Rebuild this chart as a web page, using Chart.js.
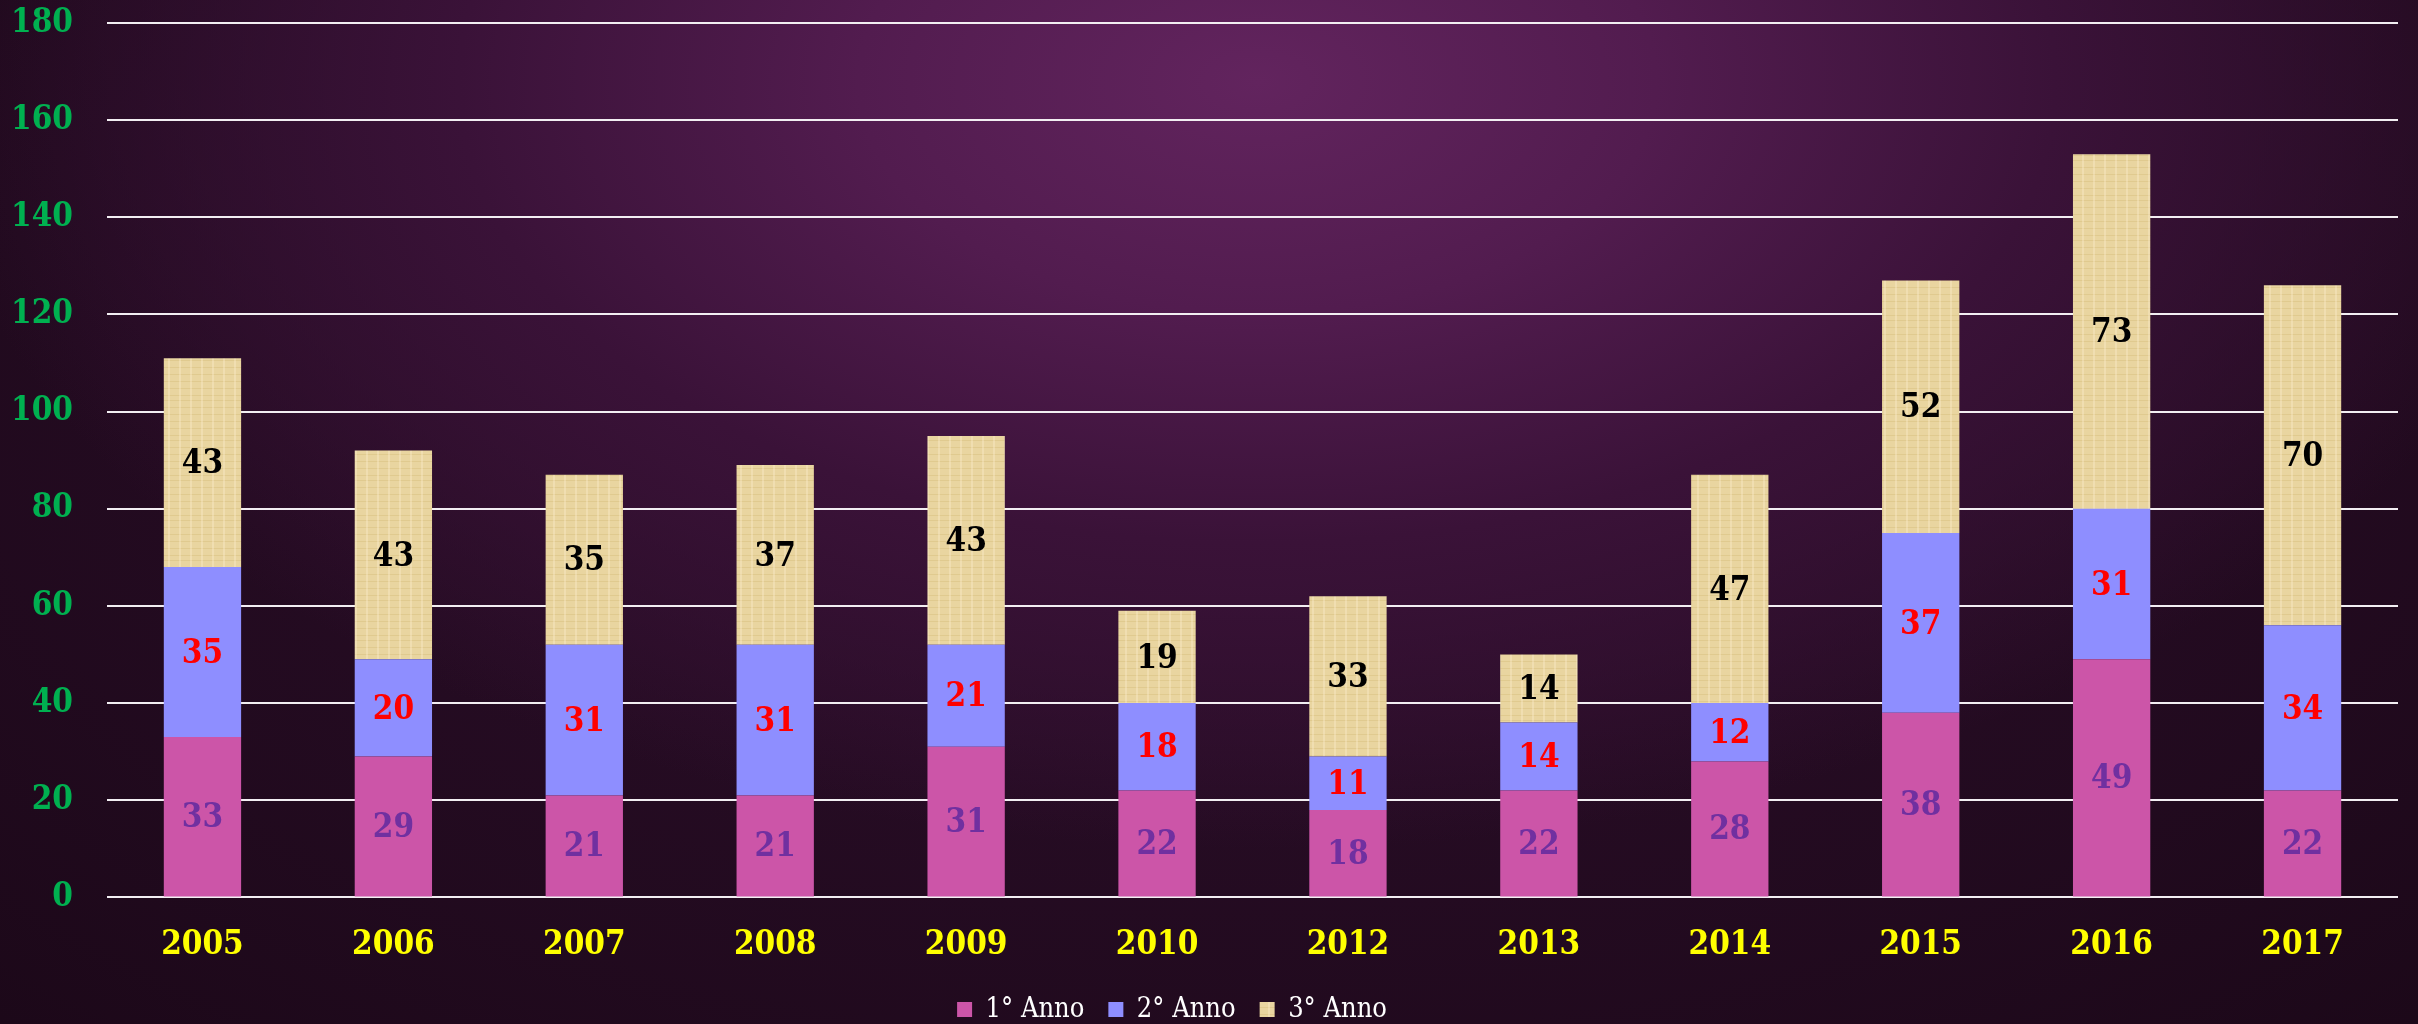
<!DOCTYPE html>
<html>
<head>
<meta charset="utf-8">
<script src="https://cdn.jsdelivr.net/npm/chart.js@4.4.1/dist/chart.umd.min.js"></script>
<style>
  html, body { margin: 0; padding: 0; }
  body {
    width: 2418px; height: 1024px; overflow: hidden;
    background:
      radial-gradient(ellipse 55% 75% at 52% 8%, #62245e 0%, #521c4f 30%, #3a1238 60%, rgba(30,10,28,0) 100%),
      radial-gradient(ellipse at 50% 40%, #2e0f2c 0%, #1c0819 100%);
  }
  #wrap { position: relative; width: 2418px; height: 1024px; }
</style>
</head>
<body>
<div id="wrap"><canvas id="annoChart"></canvas></div>
<script>
const years = ["2005", "2006", "2007", "2008", "2009", "2010", "2012", "2013", "2014", "2015", "2016", "2017"];
const anno1 = [33, 29, 21, 21, 31, 22, 18, 22, 28, 38, 49, 22];
const anno2 = [35, 20, 31, 31, 21, 18, 11, 14, 12, 37, 31, 34];
const anno3 = [43, 43, 35, 37, 43, 19, 33, 14, 47, 52, 73, 70];
const seriesNames = ["1° Anno", "2° Anno", "3° Anno"];

const slab = '"DejaVu Serif Condensed", "DejaVu Serif", serif';

// papyrus-ish fill for the 3rd year bars
function papyrus() {
    const c = document.createElement("canvas");
    c.width = 77; c.height = 40;
    const g = c.getContext("2d");
    g.fillStyle = "#e9d5a0";
    g.fillRect(0, 0, 77, 40);
    g.fillStyle = "rgba(200,170,90,0.25)";
    for (let y = 0; y < 40; y += 7) g.fillRect(0, y, 77, 1);
    g.fillStyle = "rgba(255,240,210,0.35)";
    for (let x = 3; x < 77; x += 11) g.fillRect(x, 0, 2, 40);
    return g.createPattern(c, "repeat");
}

// value labels in the middle of each segment
const segmentLabels = {
    id: "segmentLabels",
    afterLayout(chart) {
        // legend sits a bit left of centre and higher up in the original
        chart.legend.left -= 27;
        chart.legend.right -= 27;
        chart.legend.top -= 13;
        chart.legend.bottom -= 13;
    },
    afterDatasetsDraw(chart) {
        const ctx = chart.ctx;
        const colors = ["#7030a0", "#ff0000", "#000000"];
        ctx.save();
        ctx.font = "bold 33px " + slab;
        ctx.textAlign = "center";
        ctx.textBaseline = "middle";
        chart.data.datasets.forEach((ds, i) => {
            chart.getDatasetMeta(i).data.forEach((bar, j) => {
                ctx.fillStyle = colors[i];
                ctx.fillText(ds.data[j], bar.x, (bar.y + bar.base) / 2 + 2);
            });
        });
        ctx.restore();
    }
};

const ctx = document.getElementById("annoChart").getContext("2d");
new Chart(ctx, {
    type: "bar",
    data: {
        labels: years,
        datasets: [
            { label: seriesNames[0], data: anno1, backgroundColor: "#cc55a8" },
            { label: seriesNames[1], data: anno2, backgroundColor: "#8e8eff" },
            { label: seriesNames[2], data: anno3, backgroundColor: papyrus() }
        ]
    },
    options: {
        responsive: true,
        maintainAspectRatio: false,
        animation: false,
        layout: { padding: { top: 0, right: 20, left: 0, bottom: -22 } },
        datasets: { bar: { categoryPercentage: 1, barPercentage: 0.405 } },
        scales: {
            x: {
                stacked: true,
                grid: { display: false },
                border: { display: false },
                ticks: { color: "#ffff00", font: { family: slab, size: 33, weight: "bold" }, padding: 20 }
            },
            y: {
                stacked: true,
                min: 0,
                max: 180,
                afterFit: (scale) => {
                    scale.width = 107;
                    scale.paddingTop = 23;
                    scale.paddingBottom = 0;
                },
                border: { display: false },
                grid: { color: "#f2eef2", lineWidth: 2, drawTicks: false },
                ticks: { stepSize: 20, color: "#00b050", padding: 34, font: { family: slab, size: 33, weight: "bold" } }
            }
        },
        plugins: {
            legend: {
                position: "bottom",
                labels: {
                    color: "#ffffff",
                    boxWidth: 15,
                    boxHeight: 15,
                    padding: 24,
                    font: { family: slab, size: 27 }
                }
            },
            tooltip: { enabled: false }
        }
    },
    plugins: [segmentLabels]
});
</script>
</body>
</html>
